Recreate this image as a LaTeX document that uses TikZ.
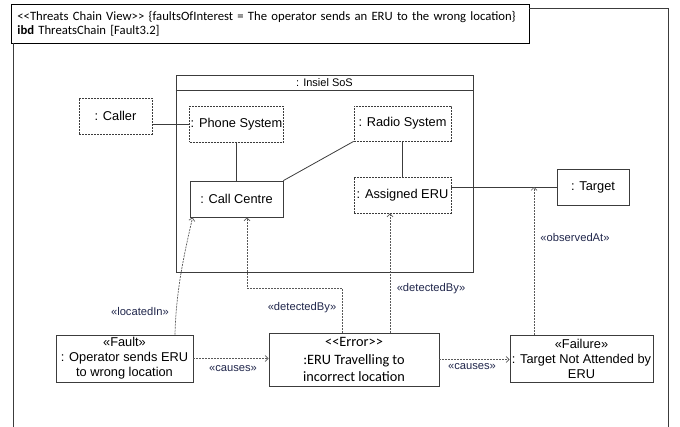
\documentclass[tikz,border=0pt]{standalone}
\usepackage{fontspec}
\setmainfont{Liberation Sans}
\newfontfamily\calib{Carlito}
\usetikzlibrary{arrows.meta,calc}
\definecolor{navy}{RGB}{32,38,75}
\definecolor{edge}{RGB}{60,60,60}
\tikzset{
  part/.style={draw=edge, line width=0.8pt, minimum height=36pt, inner sep=1pt, font=\fontsize{12.8}{15}\selectfont},
  extpart/.style={part, dash pattern=on 2pt off 1pt},
  elem/.style={draw=edge, line width=0.8pt, align=center, inner sep=1pt, minimum height=47pt, font=\fontsize{12.8}{15}\selectfont},
  conn/.style={draw=edge, line width=0.8pt},
  dep/.style={draw=gray!70!black, line width=0.7pt, dash pattern=on 2pt off 1pt, -{Straight Barb[length=3pt,width=6pt]}},
  lbl/.style={text=navy, font=\fontsize{11.2}{13}\selectfont, inner sep=0pt}
}
\begin{document}
\begin{tikzpicture}[x=1pt,y=-1pt]
	\useasboundingbox (0,0) rectangle (680,427);
	% frame and header
	\node (header) at (11,4) [draw, line width=0.8pt, anchor=north west, text width=506pt, inner xsep=6pt, minimum height=39pt, align=left, font=\calib\fontsize{12.7}{14}\selectfont]
	  {<{}<Threats Chain View>{}> \{faultsOfInterest = The operator sends an ERU to the wrong location\}\\ \textbf{ibd} ThreatsChain [Fault3.2]};
	\draw[line width=0.8pt, draw=edge] (13,43) -- (13,427);
	\draw[line width=0.8pt, draw=edge] (529,8) -- (668,8) -- (668,427);
	% system of systems
	\node (sos) at (324.5,173.5) [draw=edge, line width=0.8pt, minimum width=297pt, minimum height=197pt]{};
	\draw[conn] ($(sos.north west)+(0,16)$) -- ($(sos.north east)+(0,16)$);
	\node (sostitle) at (324.5,83) [font=\fontsize{11}{13}\selectfont, inner sep=0pt]{: Insiel SoS};
	% parts
	\node (caller) at (115.5,116) [extpart, minimum width=73pt]{: Caller};
	\node (phone) at (236.5,124) [extpart, minimum width=93pt]{: Phone System};
	\node (callc) at (236.5,199) [part, minimum width=93pt]{: Call Centre};
	\node (radio) at (402.5,123.5) [extpart, minimum width=97pt, minimum height=35pt]{: Radio System};
	\node (eru) at (402.5,195) [extpart, minimum width=97pt]{: Assigned ERU};
	\node (target) at (593,187) [part, minimum width=72pt]{: Target};
	\draw[conn] (phone.west) -- (phone.west -| caller.east);
	\draw[conn] (phone.south) -- (callc.north);
	\draw[conn] (callc.north east) -- (radio.south west);
	\draw[conn] (radio.south) -- (radio.south |- eru.north);
	\draw[conn] (target.west) -- (target.west -| eru.east);
	% threats chain
	\node (fault) at (124.5,358.5) [elem, minimum width=137pt]{«Fault»\\: Operator sends ERU\\to wrong location};
	\node (error) at (354,359.5) [elem, minimum width=170pt, minimum height=53pt, font=\calib\fontsize{14.3}{17.5}\selectfont]{<{}<Error>{}>\\:ERU Travelling to\\incorrect location};
	\node (failure) at (581.5,358.5) [elem, minimum width=143pt]{«Failure»\\: Target Not Attended by\\ERU};
	\coordinate (bendA) at (300,288);
	\draw[dep] (fault.east) -- (fault.east -| error.west);
	\draw[dep] (error.east) -- (error.east -| failure.west);
	\draw[dep] ([xshift=50.5pt]fault.north) .. controls +(1,-45) and +(-8,35) .. ([xshift=3pt]callc.south west);
	\draw[dep] ([xshift=-12pt]error.north) |- (bendA) -| ([xshift=10.5pt]callc.south);
	\draw[dep] ([xshift=36pt]error.north) -- ([xshift=36pt]error.north |- eru.south);
	\draw[dep] ([xshift=-47.5pt]failure.north) -- ([xshift=-47.5pt]failure.north |- target.west);
	% labels
	\node (lbllocated) at (140,311) [lbl]{«locatedIn»};
	\node (lbldetA) at (302,308) [lbl]{«detectedBy»};
	\node (lbldetB) at (431,289) [lbl]{«detectedBy»};
	\node (lblobs) at (575,237) [lbl]{«observedAt»};
	\node (lblcauseA) at (233,369) [lbl]{«causes»};
	\node (lblcauseB) at (472,367) [lbl]{«causes»};
\end{tikzpicture}
\end{document}
